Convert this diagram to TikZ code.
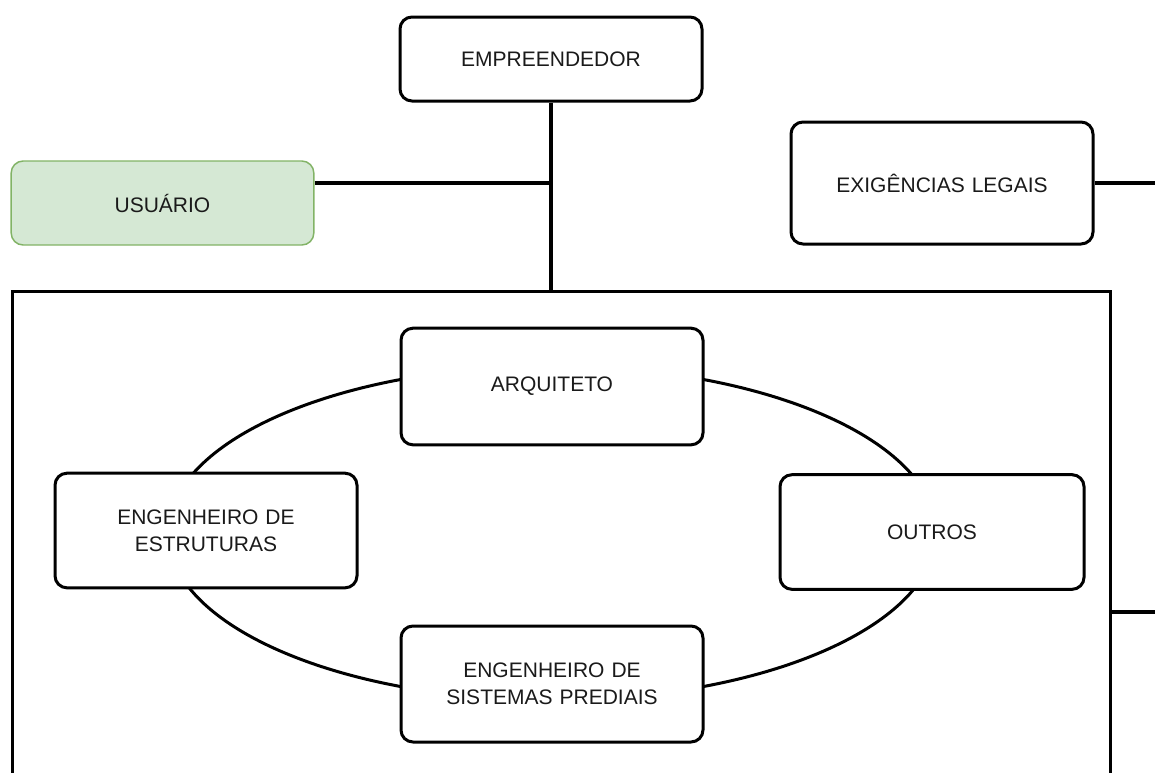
\documentclass[tikz,border=0pt]{standalone}
\usepackage{fontspec}
\setmainfont{Liberation Sans}
\definecolor{usrfill}{HTML}{D5E8D4}
\definecolor{usrline}{HTML}{82B366}
\definecolor{ink}{HTML}{1A1A1A}
\begin{document}
\begin{tikzpicture}[x=0.75pt, y=-0.75pt,
  box/.style={draw=black, line width=2.25pt, rounded corners=9pt, fill=white,
    align=center, inner sep=0pt, text width=210pt, text=ink,
    font=\fontsize{15.75}{20.5}\selectfont},
  userbox/.style={box, draw=usrline, fill=usrfill, line width=1.1pt},
  wire/.style={line width=2.6pt}]
\useasboundingbox (0,0) rectangle (1155,772);

% design team frame (runs off the bottom edge)
\node[draw=black, line width=2.25pt, minimum width=823.5pt, minimum height=390pt,
  inner sep=0pt] (team) at (561,551) {};

% coordination ring
\draw[line width=2.25pt] (552,533) ellipse [x radius=288pt, y radius=125.25pt];

% top stakeholders
\node[box, minimum width=226.5pt, minimum height=63pt] (emp) at (551,59) {EMPREENDEDOR};
\node[userbox, minimum width=227pt, minimum height=63pt] (usr) at (162.5,203) {USUÁRIO};
\node[box, minimum width=226.5pt, minimum height=91.5pt] (leg) at (942,183) {EXIGÊNCIAS LEGAIS};

% design team members
\node[box, minimum width=226.5pt, minimum height=87.5pt] (arq) at (552,386.5) {ARQUITETO};
\node[box, minimum width=226.5pt, minimum height=86pt] (est) at (206,530.5) {ENGENHEIRO DE\\ESTRUTURAS};
\node[box, minimum width=228pt, minimum height=86pt] (out) at (932,532) {OUTROS};
\node[box, minimum width=226.5pt, minimum height=87pt] (sis) at (552,684) {ENGENHEIRO DE\\SISTEMAS PREDIAIS};

% connectors
\coordinate (junc) at (551,183);
\coordinate (edgeA) at (1155,183);
\coordinate (edgeB) at (1155,612);
\draw[wire] (emp.south) -- (emp.south |- team.north);
\draw[wire] (usr.east |- junc) -- (junc);
\draw[wire] (leg.east |- edgeA) -- (edgeA);
\draw[wire] (team.east |- edgeB) -- (edgeB);
\end{tikzpicture}
\end{document}
